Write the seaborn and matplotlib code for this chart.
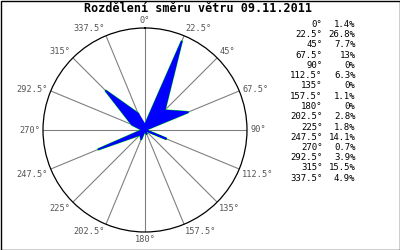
import numpy as np
import pandas as pd
import matplotlib
matplotlib.use("Agg")
import matplotlib.pyplot as plt
from matplotlib.patches import Rectangle
import seaborn as sns

# ---- data ----
directions = [0, 22.5, 45, 67.5, 90, 112.5, 135, 157.5,
              180, 202.5, 225, 247.5, 270, 292.5, 315, 337.5]
percent = [1.4, 26.8, 7.7, 13, 0, 6.3, 0, 1.1,
           0, 2.8, 1.8, 14.1, 0.7, 3.9, 15.5, 4.9]
title = "Rozdělení směru větru 09.11.2011"
r_limit = 28.5

sns.set_style("white")
plt.rcParams['font.family'] = ['DejaVu Sans Mono', 'DejaVu Sans']

W, H = 400, 250
fig = plt.figure(figsize=(W / 100, H / 100), dpi=100)
fig.patch.set_facecolor("white")

cx, cy, R = 145, 130, 102
ax = fig.add_axes([(cx - R) / W, (H - cy - R) / H, 2 * R / W, 2 * R / H],
                  projection="polar")
ax.set_theta_zero_location("N")
ax.set_theta_direction(-1)
ax.set_facecolor("white")

theta = np.deg2rad(directions)
df = pd.DataFrame({"theta": list(theta) + [theta[0]],
                   "r": percent + [percent[0]]})

# outline (green) then blue fill
sns.lineplot(data=df, x="theta", y="r", sort=False, ax=ax,
             color="#00ee00", linewidth=1.8, zorder=3)
ax.fill(df["theta"], df["r"], facecolor="#0000ff", edgecolor="#0000ff",
        linewidth=1.2, joinstyle="round", zorder=4)

ax.set_ylim(0, r_limit)
ax.set_yticks([])
ax.set_xticks(theta)
ax.set_xticklabels([""] * len(directions))
ax.xaxis.grid(True, color="#808080", linewidth=0.8)
ax.yaxis.grid(False)
ax.spines["polar"].set_color("black")
ax.spines["polar"].set_linewidth(0.9)
ax.set_xlabel("")
ax.set_ylabel("")
ax.tick_params(length=0)

for d, t in zip(directions, theta):
    s, c = np.sin(t), np.cos(t)
    ha = "left" if s > 0.05 else ("right" if s < -0.05 else "center")
    va = "bottom" if c > 0.5 else ("top" if c < -0.3 else "center")
    ax.text(t, r_limit * 1.03, f"{d:g}°", ha=ha, va=va, fontsize=6.2,
            color="#555555", clip_on=False, zorder=5)

# title
fig.text(198.5 / W, 1 - 8.5 / H, title, ha="center", va="center",
         fontsize=8.5, fontweight="bold", color="black")

# right-hand list
y0, dy = 24.5, 10.25
for i, (d, p) in enumerate(zip(directions, percent)):
    y = 1 - (y0 + i * dy) / H
    fig.text(322.5 / W, y, f"{d:g}°", ha="right", va="center",
             fontsize=6.5, color="black")
    fig.text(355.5 / W, y, f"{p:g}%", ha="right", va="center",
             fontsize=6.5, color="black")

# figure border
fig.patches.append(Rectangle((0.5 / W, 0.5 / H), 1 - 1 / W, 1 - 1 / H,
                             transform=fig.transFigure, fill=False,
                             edgecolor="black", linewidth=1.0))

fig.savefig("out.png", dpi=100, facecolor="white")
